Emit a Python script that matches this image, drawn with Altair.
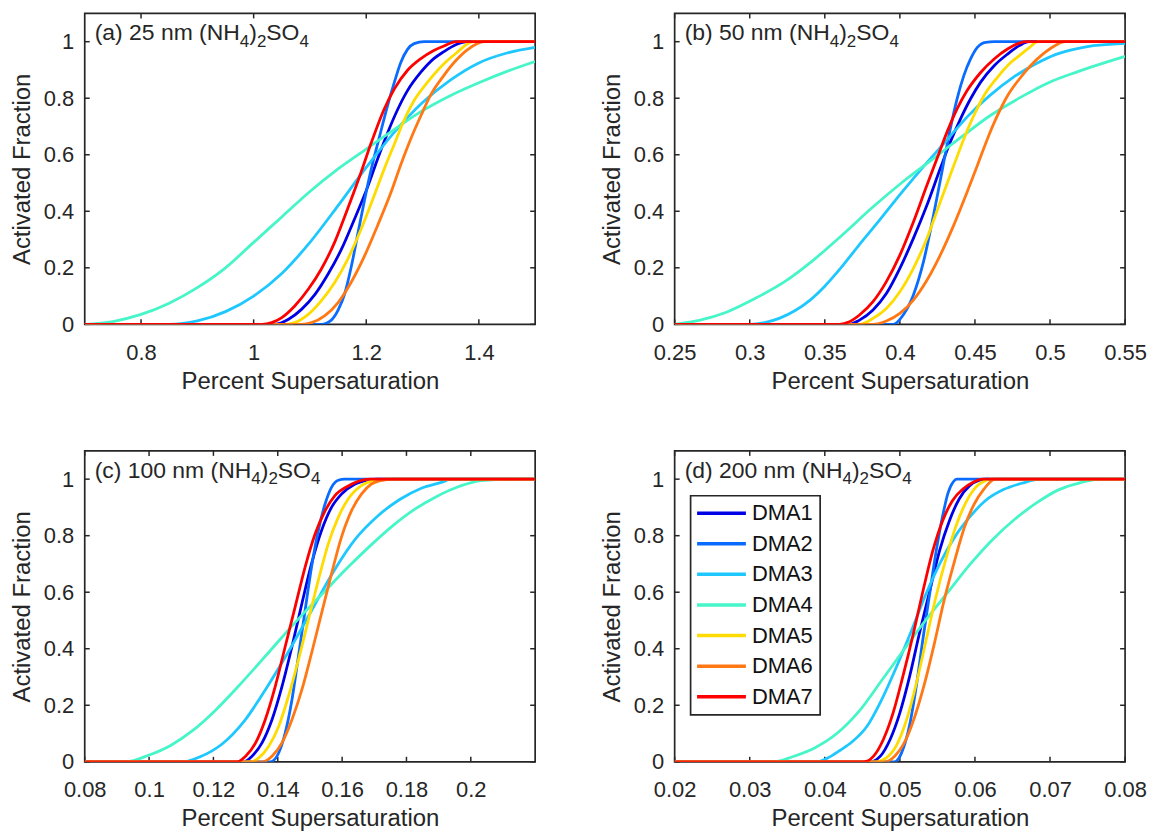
import altair as alt
import pandas as pd

FONT = "Liberation Sans, Arial, sans-serif"
INK = "#262626"

SERIES = ["DMA1", "DMA2", "DMA3", "DMA4", "DMA5", "DMA6", "DMA7"]
COLORS = ["#0000E6", "#0A6CFF", "#1EC8FF", "#46F5C8", "#FFDC00", "#FF7814", "#FF0000"]

Y_TICKS = [0, 0.2, 0.4, 0.6, 0.8, 1]
Y_DOMAIN = [0, 1.1]

# ---------------- panel (a) 25 nm ----------------
A_DOMAIN = [0.7, 1.5]
A_XTICKS = [0.8, 1.0, 1.2, 1.4]
A_LABEL = ["(a) 25 nm (NH", "4", ")", "2", "SO", "4"]
A1_X = [0.7, 1.038, 1.062, 1.085, 1.109, 1.132, 1.156, 1.179, 1.203, 1.220, 1.238, 1.256, 1.273, 1.297, 1.320, 1.338, 1.36, 1.38, 1.5]
A1_Y = [0, 0, 0.018, 0.053, 0.106, 0.177, 0.266, 0.372, 0.489, 0.584, 0.678, 0.761, 0.826, 0.892, 0.94, 0.965, 0.99, 1.0, 1.0]
A2_X = [0.7, 1.12, 1.138, 1.15, 1.162, 1.173, 1.185, 1.197, 1.209, 1.223, 1.238, 1.25, 1.261, 1.273, 1.285, 1.303, 1.5]
A2_Y = [0, 0, 0.015, 0.05, 0.11, 0.2, 0.32, 0.44, 0.55, 0.66, 0.775, 0.857, 0.925, 0.972, 0.993, 1.0, 1.0]
A3_X = [0.7, 0.85, 0.9, 0.95, 1.0, 1.05, 1.1, 1.15, 1.2, 1.25, 1.3, 1.35, 1.4, 1.45, 1.5]
A3_Y = [0, 0, 0.012, 0.045, 0.1, 0.18, 0.29, 0.42, 0.555, 0.68, 0.785, 0.865, 0.925, 0.96, 0.98]
A4_X = [0.7, 0.75, 0.8, 0.85, 0.9, 0.95, 1.0, 1.05, 1.1, 1.15, 1.2, 1.25, 1.3, 1.35, 1.4, 1.45, 1.5]
A4_Y = [0, 0.01, 0.035, 0.075, 0.13, 0.2, 0.29, 0.38, 0.47, 0.55, 0.62, 0.69, 0.756, 0.81, 0.855, 0.895, 0.93]
A5_X = [0.7, 1.056, 1.073, 1.097, 1.120, 1.144, 1.167, 1.191, 1.214, 1.232, 1.250, 1.267, 1.285, 1.309, 1.338, 1.36, 1.39, 1.5]
A5_Y = [0, 0, 0.006, 0.035, 0.083, 0.148, 0.23, 0.337, 0.455, 0.55, 0.638, 0.721, 0.792, 0.857, 0.922, 0.96, 1.0, 1.0]
A6_X = [0.7, 1.085, 1.103, 1.126, 1.150, 1.173, 1.197, 1.220, 1.244, 1.261, 1.279, 1.297, 1.314, 1.338, 1.36, 1.38, 1.41, 1.5]
A6_Y = [0, 0, 0.006, 0.03, 0.077, 0.148, 0.242, 0.349, 0.467, 0.563, 0.656, 0.738, 0.81, 0.881, 0.935, 0.972, 1.0, 1.0]
A7_X = [0.7, 1.015, 1.032, 1.050, 1.073, 1.097, 1.120, 1.144, 1.167, 1.191, 1.209, 1.232, 1.250, 1.273, 1.297, 1.320, 1.338, 1.36, 1.5]
A7_Y = [0, 0, 0.006, 0.024, 0.065, 0.124, 0.195, 0.291, 0.409, 0.539, 0.643, 0.762, 0.833, 0.898, 0.94, 0.969, 0.985, 1.0, 1.0]

# ---------------- panel (b) 50 nm ----------------
B_DOMAIN = [0.25, 0.55]
B_XTICKS = [0.25, 0.3, 0.35, 0.4, 0.45, 0.5, 0.55]
B_LABEL = ["(b) 50 nm (NH", "4", ")", "2", "SO", "4"]
B1_X = [0.25, 0.3664, 0.3731, 0.3821, 0.391, 0.400, 0.409, 0.418, 0.4269, 0.4336, 0.4404, 0.4471, 0.4538, 0.4628, 0.4717, 0.4796, 0.486, 0.55]
B1_Y = [0, 0, 0.015, 0.051, 0.109, 0.198, 0.304, 0.421, 0.551, 0.645, 0.727, 0.798, 0.857, 0.915, 0.956, 0.986, 1.0, 1.0]
B2_X = [0.25, 0.3955, 0.4022, 0.409, 0.4157, 0.4224, 0.428, 0.4336, 0.4381, 0.4426, 0.4471, 0.4516, 0.4572, 0.4628, 0.55]
B2_Y = [0, 0, 0.033, 0.104, 0.221, 0.386, 0.539, 0.692, 0.798, 0.88, 0.939, 0.98, 0.998, 1.0, 1.0]
B3_X = [0.25, 0.30, 0.31, 0.32, 0.33, 0.34, 0.35, 0.36, 0.372, 0.387, 0.401, 0.416, 0.431, 0.445, 0.46, 0.475, 0.49, 0.504, 0.524, 0.55]
B3_Y = [0, 0, 0.006, 0.022, 0.048, 0.085, 0.135, 0.195, 0.275, 0.372, 0.465, 0.56, 0.65, 0.735, 0.81, 0.872, 0.92, 0.955, 0.982, 0.994]
B4_X = [0.25, 0.267, 0.284, 0.303, 0.323, 0.343, 0.362, 0.382, 0.401, 0.421, 0.441, 0.46, 0.48, 0.499, 0.519, 0.55]
B4_Y = [0, 0.015, 0.042, 0.09, 0.15, 0.23, 0.318, 0.415, 0.5, 0.581, 0.663, 0.738, 0.802, 0.855, 0.895, 0.948]
B5_X = [0.25, 0.3731, 0.3821, 0.391, 0.400, 0.409, 0.418, 0.4269, 0.4359, 0.4426, 0.4493, 0.456, 0.465, 0.474, 0.4796, 0.486, 0.492, 0.55]
B5_Y = [0, 0, 0.021, 0.056, 0.115, 0.198, 0.304, 0.433, 0.562, 0.656, 0.739, 0.809, 0.874, 0.927, 0.951, 0.978, 1.0, 1.0]
B6_X = [0.25, 0.3821, 0.391, 0.400, 0.409, 0.418, 0.4269, 0.4359, 0.4448, 0.4516, 0.4583, 0.465, 0.4717, 0.4796, 0.487, 0.495, 0.503, 0.51, 0.55]
B6_Y = [0, 0, 0.012, 0.039, 0.086, 0.156, 0.245, 0.351, 0.468, 0.562, 0.656, 0.739, 0.809, 0.868, 0.915, 0.955, 0.985, 1.0, 1.0]
B7_X = [0.25, 0.3596, 0.3664, 0.3731, 0.3821, 0.391, 0.400, 0.409, 0.418, 0.4247, 0.4314, 0.4381, 0.4448, 0.4538, 0.4628, 0.4717, 0.4796, 0.484, 0.55]
B7_Y = [0, 0, 0.009, 0.033, 0.08, 0.151, 0.245, 0.362, 0.492, 0.586, 0.68, 0.762, 0.827, 0.891, 0.939, 0.974, 0.995, 1.0, 1.0]

# ---------------- panel (c) 100 nm ----------------
C_DOMAIN = [0.08, 0.22]
C_XTICKS = [0.08, 0.1, 0.12, 0.14, 0.16, 0.18, 0.2]
C_LABEL = ["(c) 100 nm (NH", "4", ")", "2", "SO", "4"]
C1_X = [0.08, 0.1295, 0.132, 0.1351, 0.1382, 0.1413, 0.1444, 0.1475, 0.1505, 0.1536, 0.1567, 0.1598, 0.1639, 0.168, 0.1711, 0.22]
C1_Y = [0, 0, 0.02, 0.067, 0.149, 0.266, 0.407, 0.56, 0.701, 0.818, 0.9, 0.947, 0.982, 0.996, 1.0, 1.0]
C2_X = [0.08, 0.1377, 0.1403, 0.1423, 0.1444, 0.1464, 0.1485, 0.1505, 0.1526, 0.1547, 0.1567, 0.1588, 0.1608, 0.22]
C2_Y = [0, 0, 0.032, 0.102, 0.219, 0.372, 0.536, 0.689, 0.818, 0.912, 0.971, 0.996, 1.0, 1.0]
C3_X = [0.08, 0.1107, 0.1159, 0.1228, 0.1297, 0.1366, 0.1434, 0.1503, 0.1572, 0.1641, 0.171, 0.1779, 0.1848, 0.1917, 0.1934, 0.22]
C3_Y = [0, 0, 0.018, 0.064, 0.146, 0.263, 0.391, 0.531, 0.671, 0.788, 0.869, 0.928, 0.969, 0.992, 1.0, 1.0]
C4_X = [0.08, 0.0929, 0.0998, 0.1067, 0.1136, 0.1205, 0.1274, 0.1343, 0.1411, 0.148, 0.1549, 0.1618, 0.1687, 0.1756, 0.1825, 0.1894, 0.1963, 0.2032, 0.2147, 0.22]
C4_Y = [0, 0, 0.023, 0.058, 0.111, 0.181, 0.263, 0.35, 0.438, 0.525, 0.607, 0.688, 0.764, 0.834, 0.893, 0.939, 0.974, 0.995, 1.0, 1.0]
C5_X = [0.08, 0.1315, 0.1341, 0.1372, 0.1403, 0.1433, 0.1464, 0.1495, 0.1526, 0.1557, 0.1588, 0.1619, 0.166, 0.1701, 0.1732, 0.22]
C5_Y = [0, 0, 0.014, 0.055, 0.126, 0.231, 0.36, 0.501, 0.642, 0.771, 0.865, 0.93, 0.977, 0.996, 1.0, 1.0]
C6_X = [0.08, 0.1351, 0.1382, 0.1413, 0.1444, 0.1475, 0.1505, 0.1536, 0.1567, 0.1598, 0.1629, 0.166, 0.169, 0.1716, 0.176, 0.22]
C6_Y = [0, 0, 0.02, 0.067, 0.149, 0.255, 0.384, 0.525, 0.665, 0.795, 0.888, 0.947, 0.982, 0.994, 1.0, 1.0]
C7_X = [0.08, 0.1274, 0.13, 0.1331, 0.1361, 0.1392, 0.1423, 0.1454, 0.1485, 0.1516, 0.1547, 0.1577, 0.1619, 0.166, 0.169, 0.22]
C7_Y = [0, 0, 0.02, 0.067, 0.149, 0.266, 0.407, 0.548, 0.689, 0.806, 0.888, 0.941, 0.976, 0.996, 1.0, 1.0]

# ---------------- panel (d) 200 nm ----------------
D_DOMAIN = [0.02, 0.08]
D_XTICKS = [0.02, 0.03, 0.04, 0.05, 0.06, 0.07, 0.08]
D_LABEL = ["(d) 200 nm (NH", "4", ")", "2", "SO", "4"]
D1_X = [0.02, 0.046, 0.0474, 0.0487, 0.05, 0.0513, 0.0526, 0.054, 0.0553, 0.0566, 0.0579, 0.0593, 0.0606, 0.0615, 0.08]
D1_Y = [0, 0, 0.02, 0.079, 0.173, 0.302, 0.454, 0.607, 0.748, 0.853, 0.93, 0.977, 0.996, 1.0, 1.0]
D2_X = [0.02, 0.0493, 0.0502, 0.0513, 0.0522, 0.0531, 0.054, 0.0548, 0.0557, 0.0564, 0.0571, 0.0576, 0.08]
D2_Y = [0, 0, 0.03, 0.13, 0.27, 0.44, 0.6, 0.74, 0.87, 0.95, 0.99, 1.0, 1.0]
D3_X = [0.02, 0.039, 0.0405, 0.042, 0.0436, 0.0456, 0.0475, 0.0495, 0.0515, 0.0534, 0.0554, 0.0574, 0.0594, 0.0613, 0.0638, 0.0663, 0.0687, 0.08]
D3_Y = [0, 0, 0.015, 0.04, 0.07, 0.125, 0.216, 0.333, 0.461, 0.589, 0.706, 0.799, 0.869, 0.922, 0.963, 0.986, 1.0, 1.0]
D4_X = [0.02, 0.0333, 0.0357, 0.0387, 0.0416, 0.0446, 0.0475, 0.0505, 0.0534, 0.0564, 0.0594, 0.0623, 0.0653, 0.0682, 0.0712, 0.0741, 0.0768, 0.08]
D4_Y = [0, 0, 0.018, 0.05, 0.1, 0.18, 0.285, 0.395, 0.5, 0.6, 0.7, 0.785, 0.858, 0.916, 0.963, 0.988, 1.0, 1.0]
D5_X = [0.02, 0.0469, 0.0482, 0.0496, 0.0509, 0.0522, 0.0535, 0.0548, 0.0562, 0.0575, 0.0588, 0.0601, 0.0615, 0.0619, 0.08]
D5_Y = [0, 0, 0.014, 0.061, 0.149, 0.278, 0.431, 0.583, 0.724, 0.836, 0.918, 0.971, 0.996, 1.0, 1.0]
D6_X = [0.02, 0.048, 0.0493, 0.0507, 0.052, 0.0533, 0.0546, 0.0559, 0.0573, 0.0586, 0.0599, 0.0612, 0.0627, 0.08]
D6_Y = [0, 0, 0.02, 0.073, 0.161, 0.278, 0.419, 0.572, 0.712, 0.83, 0.912, 0.965, 1.0, 1.0]
D7_X = [0.02, 0.0452, 0.0465, 0.0478, 0.0491, 0.0504, 0.0518, 0.0531, 0.0544, 0.0557, 0.057, 0.0584, 0.0597, 0.061, 0.08]
D7_Y = [0, 0, 0.02, 0.079, 0.173, 0.302, 0.454, 0.607, 0.748, 0.853, 0.924, 0.965, 0.988, 1.0, 1.0]

# ---------------- layout / style ----------------
W_PLOT = 452
H_PLOT = 312
TICK_LEN = 5
LABEL_X0 = 10
MAIN_SIZE = 23
SUB_SIZE = 17
MAIN_BASE = 27
SUB_BASE = 33.6

ARIAL_W = {"(": 0.333, ")": 0.333, " ": 0.278, "a": 0.556, "b": 0.556, "c": 0.5,
           "d": 0.556, "n": 0.556, "m": 0.833, "N": 0.722, "H": 0.722, "S": 0.667,
           "O": 0.778}
for _d in "0123456789":
    ARIAL_W[_d] = 0.556


def text_width(s, size):
    return sum(ARIAL_W.get(ch, 0.556) for ch in s) * size


ONE = alt.Data(values=[{"k": 1}])


def label_layers(segs):
    layers = []
    x = LABEL_X0
    for i, seg in enumerate(segs):
        sub = (i % 2 == 1)
        size = SUB_SIZE if sub else MAIN_SIZE
        ypos = SUB_BASE if sub else MAIN_BASE
        layers.append(
            alt.Chart(ONE).mark_text(align="left", baseline="alphabetic", font=FONT,
                                     fontSize=size, color=INK)
            .encode(x=alt.value(x), y=alt.value(ypos), text=alt.value(seg))
        )
        x += text_width(seg, size)
    return layers


def panel(domain, xticks, curves, segs, show_legend):
    rows = []
    for name, (xs, ys) in zip(SERIES, curves):
        for xv, yv in zip(xs, ys):
            rows.append({"x": xv, "y": yv, "series": name})
    df = pd.DataFrame(rows)

    X = alt.X("x:Q", scale=alt.Scale(domain=domain, nice=False, zero=False),
              axis=alt.Axis(values=xticks, format="~g", title="Percent Supersaturation"))
    Y = alt.Y("y:Q", scale=alt.Scale(domain=Y_DOMAIN, nice=False, zero=False),
              axis=alt.Axis(values=Y_TICKS, format="~g", title="Activated Fraction"))

    if show_legend:
        legend = alt.Legend(title=None, orient="none", legendX=16, legendY=45,
                            symbolType="M-2.2,0H7.6", symbolSize=100, symbolStrokeWidth=3.5,
                            labelOffset=33, labelFontSize=22, labelFont=FONT,
                            labelColor="#111111", padding=6.5, rowPadding=8.7,
                            strokeColor=INK, fillColor="white")
    else:
        legend = None

    lines = alt.Chart(df).mark_line(interpolate="monotone", strokeWidth=2.8, clip=True).encode(
        x=X, y=Y,
        color=alt.Color("series:N", scale=alt.Scale(domain=SERIES, range=COLORS), legend=legend,
                        sort=SERIES),
    )

    xt = pd.DataFrame({"x": xticks})
    yt = pd.DataFrame({"y": Y_TICKS})
    tick_style = dict(color=INK, strokeWidth=1.5)
    t_bottom = alt.Chart(xt).mark_rule(**tick_style).encode(
        x=X, y=alt.value(H_PLOT), y2=alt.value(H_PLOT - TICK_LEN))
    t_top = alt.Chart(xt).mark_rule(**tick_style).encode(
        x=X, y=alt.value(0), y2=alt.value(TICK_LEN))
    t_left = alt.Chart(yt).mark_rule(**tick_style).encode(
        y=Y, x=alt.value(0), x2=alt.value(TICK_LEN))
    t_right = alt.Chart(yt).mark_rule(**tick_style).encode(
        y=Y, x=alt.value(W_PLOT), x2=alt.value(W_PLOT - TICK_LEN))

    layers = [t_bottom, t_top, t_left, t_right, lines] + label_layers(segs)
    return alt.layer(*layers).properties(width=W_PLOT, height=H_PLOT)


pa = panel(A_DOMAIN, A_XTICKS, [(A1_X, A1_Y), (A2_X, A2_Y), (A3_X, A3_Y), (A4_X, A4_Y),
                                (A5_X, A5_Y), (A6_X, A6_Y), (A7_X, A7_Y)], A_LABEL, False)
pb = panel(B_DOMAIN, B_XTICKS, [(B1_X, B1_Y), (B2_X, B2_Y), (B3_X, B3_Y), (B4_X, B4_Y),
                                (B5_X, B5_Y), (B6_X, B6_Y), (B7_X, B7_Y)], B_LABEL, False)
pc = panel(C_DOMAIN, C_XTICKS, [(C1_X, C1_Y), (C2_X, C2_Y), (C3_X, C3_Y), (C4_X, C4_Y),
                                (C5_X, C5_Y), (C6_X, C6_Y), (C7_X, C7_Y)], C_LABEL, False)
pd_ = panel(D_DOMAIN, D_XTICKS, [(D1_X, D1_Y), (D2_X, D2_Y), (D3_X, D3_Y), (D4_X, D4_Y),
                                 (D5_X, D5_Y), (D6_X, D6_Y), (D7_X, D7_Y)], D_LABEL, True)

RES = dict(x="independent", y="independent", color="independent")
row1 = alt.hconcat(pa, pb, spacing=62).resolve_scale(**RES).resolve_legend(color="independent")
row2 = alt.hconcat(pc, pd_, spacing=62).resolve_scale(**RES).resolve_legend(color="independent")

chart = (
    alt.vconcat(row1, row2, spacing=55)
    .resolve_scale(**RES)
    .resolve_legend(color="independent")
    .properties(padding={"left": 1, "top": 2, "right": 0, "bottom": 0}, background="white")
    .configure_view(stroke=INK, strokeWidth=1.7)
    .configure_axis(domain=False, ticks=False, tickSize=0, grid=False,
                    labelFont=FONT, labelFontSize=22, labelColor=INK,
                    titleFont=FONT, titleFontSize=24, titleFontWeight="normal", titleColor=INK,
                    labelFlush=False, labelOverlap=False)
    .configure_axisX(labelPadding=18, titlePadding=6)
    .configure_axisY(labelPadding=11, titlePadding=9)
    .configure_legend(strokeWidth=1.7)
)

chart.save("out.html", embed_options={"renderer": "svg", "actions": False})
